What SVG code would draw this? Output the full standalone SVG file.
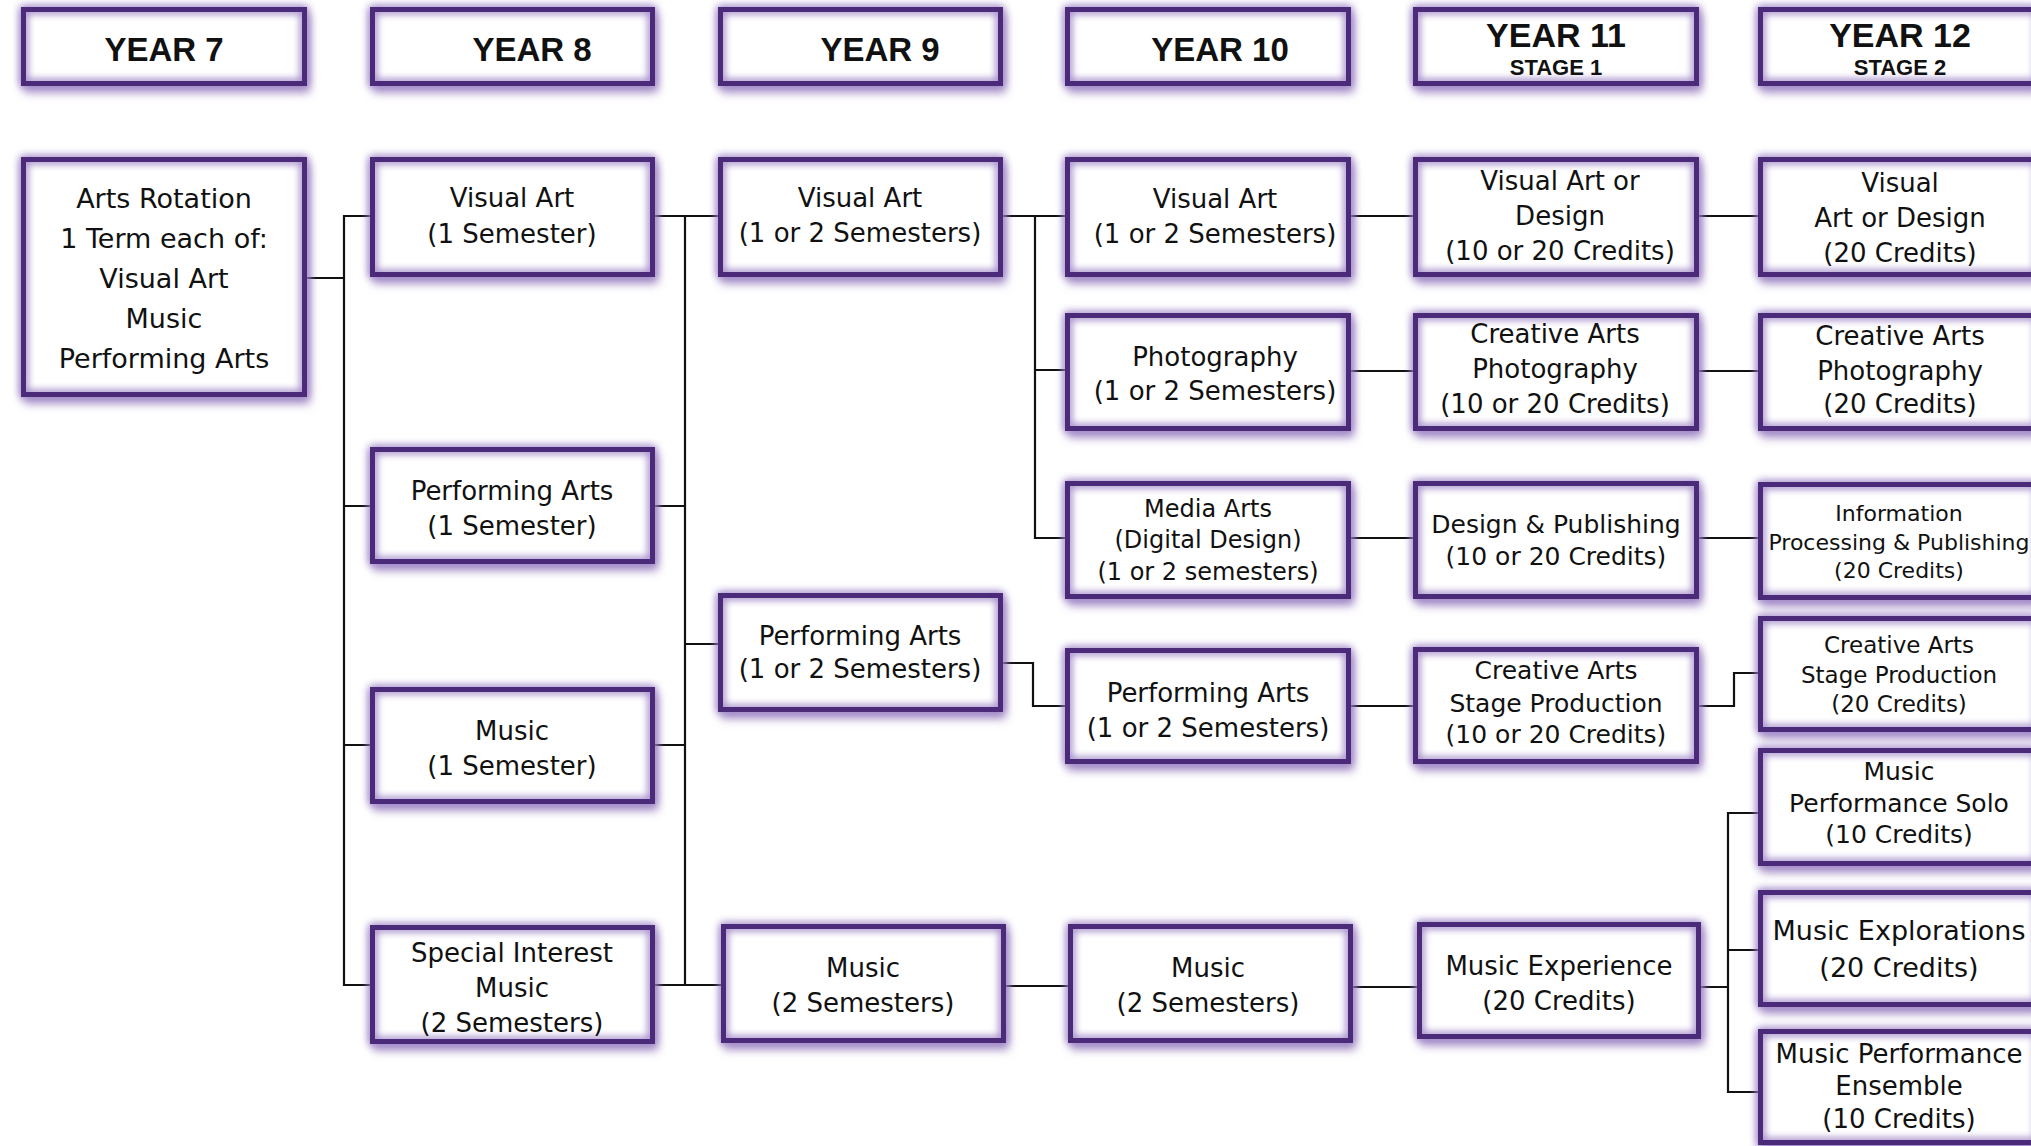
<svg xmlns="http://www.w3.org/2000/svg" width="2031" height="1146" viewBox="0 0 2031 1146">
<defs>
<style>
.bx{fill:#fff;stroke:#4b2a7a;stroke-width:5;filter:url(#fx)}
.t{font-family:"DejaVu Sans","Liberation Sans",sans-serif;font-size:26px;text-anchor:middle;fill:#111}
.h{font-family:"Liberation Sans",Arial,sans-serif;font-weight:bold;font-size:33px;text-anchor:middle;fill:#111}
.hb{font-size:34px}
.st{font-size:22px}
.s22{font-size:22px}
.s23{font-size:23px}
.s24{font-size:24px}
.s25{font-size:25px}
.s27{font-size:27px}
.c{fill:none;stroke:#111;stroke-width:2.2;stroke-linecap:square}
</style>
<filter id="fx" x="-0.1" y="-0.2" width="1.25" height="1.5" color-interpolation-filters="sRGB">
<feGaussianBlur in="SourceAlpha" stdDeviation="5" result="b"/>
<feOffset in="b" dx="3" dy="7" result="o"/>
<feFlood flood-color="#7d5cab" flood-opacity="0.6"/>
<feComposite in2="o" operator="in" result="shadow"/>
<feColorMatrix in="SourceGraphic" type="matrix" values="0 0 0 0 0.62  0 0 0 0 0.52  0 0 0 0 0.78  -3 0 0 3 0" result="dark"/>
<feGaussianBlur in="dark" stdDeviation="4" result="glow"/>
<feComposite in="SourceGraphic" in2="dark" operator="in" result="stroke"/>
<feMerge><feMergeNode in="shadow"/><feMergeNode in="SourceGraphic"/><feMergeNode in="glow"/><feMergeNode in="glow"/><feMergeNode in="stroke"/></feMerge>
</filter>
</defs>
<rect width="2031" height="1146" fill="#fff"/>
<g id="connectors">
<path class="c" d="M307 278 H344 M370 216 H344 V985 H370 M344 506 H370 M344 745 H370"/>
<path class="c" d="M655 216 H718 M685 216 V985 M655 506 H685 M655 745 H685 M655 985 H721 M685 644 H718"/>
<path class="c" d="M1003 216 H1065 M1035 216 V538 H1065 M1035 370 H1065"/>
<path class="c" d="M1003 663 H1033 V706 H1065"/>
<path class="c" d="M1006 986 H1068"/>
<path class="c" d="M1351 216 H1413 M1351 371 H1413 M1351 538 H1413 M1351 706 H1413 M1353 987 H1417"/>
<path class="c" d="M1699 216 H1758 M1699 371 H1758 M1699 538 H1758 M1699 706 H1734 V673 H1758 M1701 987 H1728 M1728 813 V1092 M1728 813 H1758 M1728 950 H1758 M1728 1092 H1758"/>
</g>
<g id="h7"><rect class="bx" x="23.5" y="9.5" width="281" height="74"/><text class="h" x="164" y="61">YEAR 7</text></g>
<g id="h8"><rect class="bx" x="372.5" y="9.5" width="280" height="74"/><text class="h" x="532" y="61">YEAR 8</text></g>
<g id="h9"><rect class="bx" x="720.5" y="9.5" width="280" height="74"/><text class="h" x="880" y="61">YEAR 9</text></g>
<g id="h10"><rect class="bx" x="1067.5" y="9.5" width="281" height="74"/><text class="h" x="1220" y="61">YEAR 10</text></g>
<g id="h11"><rect class="bx" x="1415.5" y="9.5" width="281" height="74"/><text class="h hb" x="1556" y="47">YEAR 11</text><text class="h st" x="1556" y="75">STAGE 1</text></g>
<g id="h12"><rect class="bx" x="1760.5" y="9.5" width="278" height="74"/><text class="h hb" x="1900" y="47">YEAR 12</text><text class="h st" x="1900" y="75">STAGE 2</text></g>

<g id="y7-rotation"><rect class="bx" x="23.5" y="159.5" width="281" height="235"/><text class="t s27"><tspan x="164" y="208">Arts Rotation</tspan><tspan x="164" y="248">1 Term each of:</tspan><tspan x="164" y="288">Visual Art</tspan><tspan x="164" y="328">Music</tspan><tspan x="164" y="368">Performing Arts</tspan></text></g>

<g id="y8-visual"><rect class="bx" x="372.5" y="159.5" width="280" height="115"/><text class="t"><tspan x="512" y="207">Visual Art</tspan><tspan x="512" y="243">(1 Semester)</tspan></text></g>
<g id="y8-performing"><rect class="bx" x="372.5" y="449.5" width="280" height="112"/><text class="t"><tspan x="512" y="500">Performing Arts</tspan><tspan x="512" y="535">(1 Semester)</tspan></text></g>
<g id="y8-music"><rect class="bx" x="372.5" y="689.5" width="280" height="112"/><text class="t"><tspan x="512" y="740">Music</tspan><tspan x="512" y="775">(1 Semester)</tspan></text></g>
<g id="y8-special"><rect class="bx" x="372.5" y="927.5" width="280" height="114"/><text class="t"><tspan x="512" y="962">Special Interest</tspan><tspan x="512" y="997">Music</tspan><tspan x="512" y="1032">(2 Semesters)</tspan></text></g>

<g id="y9-visual"><rect class="bx" x="720.5" y="159.5" width="280" height="115"/><text class="t"><tspan x="860" y="207">Visual Art</tspan><tspan x="860" y="242">(1 or 2 Semesters)</tspan></text></g>
<g id="y9-performing"><rect class="bx" x="720.5" y="595.5" width="280" height="114"/><text class="t"><tspan x="860" y="645">Performing Arts</tspan><tspan x="860" y="678">(1 or 2 Semesters)</tspan></text></g>
<g id="y9-music"><rect class="bx" x="723.5" y="926.5" width="280" height="114"/><text class="t"><tspan x="863" y="977">Music</tspan><tspan x="863" y="1012">(2 Semesters)</tspan></text></g>

<g id="y10-visual"><rect class="bx" x="1067.5" y="159.5" width="281" height="115"/><text class="t"><tspan x="1215" y="208">Visual Art</tspan><tspan x="1215" y="243">(1 or 2 Semesters)</tspan></text></g>
<g id="y10-photo"><rect class="bx" x="1067.5" y="315.5" width="281" height="113"/><text class="t"><tspan x="1215" y="366">Photography</tspan><tspan x="1215" y="400">(1 or 2 Semesters)</tspan></text></g>
<g id="y10-media"><rect class="bx" x="1067.5" y="483.5" width="281" height="113"/><text class="t s24"><tspan x="1208" y="517">Media Arts</tspan><tspan x="1208" y="548">(Digital Design)</tspan><tspan x="1208" y="580">(1 or 2 semesters)</tspan></text></g>
<g id="y10-performing"><rect class="bx" x="1067.5" y="650.5" width="281" height="111"/><text class="t"><tspan x="1208" y="702">Performing Arts</tspan><tspan x="1208" y="737">(1 or 2 Semesters)</tspan></text></g>
<g id="y10-music"><rect class="bx" x="1070.5" y="926.5" width="280" height="114"/><text class="t"><tspan x="1208" y="977">Music</tspan><tspan x="1208" y="1012">(2 Semesters)</tspan></text></g>

<g id="y11-visual"><rect class="bx" x="1415.5" y="159.5" width="281" height="115"/><text class="t"><tspan x="1560" y="190">Visual Art or</tspan><tspan x="1560" y="225">Design</tspan><tspan x="1560" y="260">(10 or 20 Credits)</tspan></text></g>
<g id="y11-photo"><rect class="bx" x="1415.5" y="315.5" width="281" height="113"/><text class="t"><tspan x="1555" y="343">Creative Arts</tspan><tspan x="1555" y="378">Photography</tspan><tspan x="1555" y="413">(10 or 20 Credits)</tspan></text></g>
<g id="y11-design"><rect class="bx" x="1415.5" y="483.5" width="281" height="113"/><text class="t s25"><tspan x="1556" y="533">Design &amp; Publishing</tspan><tspan x="1556" y="565">(10 or 20 Credits)</tspan></text></g>
<g id="y11-stage"><rect class="bx" x="1415.5" y="649.5" width="281" height="112"/><text class="t s25"><tspan x="1556" y="679">Creative Arts</tspan><tspan x="1556" y="712">Stage Production</tspan><tspan x="1556" y="743">(10 or 20 Credits)</tspan></text></g>
<g id="y11-music"><rect class="bx" x="1419.5" y="924.5" width="279" height="112"/><text class="t"><tspan x="1559" y="975">Music Experience</tspan><tspan x="1559" y="1010">(20 Credits)</tspan></text></g>

<g id="y12-visual"><rect class="bx" x="1760.5" y="159.5" width="278" height="115"/><text class="t"><tspan x="1900" y="192">Visual</tspan><tspan x="1900" y="227">Art or Design</tspan><tspan x="1900" y="262">(20 Credits)</tspan></text></g>
<g id="y12-photo"><rect class="bx" x="1760.5" y="315.5" width="278" height="113"/><text class="t"><tspan x="1900" y="345">Creative Arts</tspan><tspan x="1900" y="380">Photography</tspan><tspan x="1900" y="413">(20 Credits)</tspan></text></g>
<g id="y12-info"><rect class="bx" x="1760.5" y="484.5" width="278" height="113"/><text class="t s22"><tspan x="1899" y="521">Information</tspan><tspan x="1899" y="550">Processing &amp; Publishing</tspan><tspan x="1899" y="578">(20 Credits)</tspan></text></g>
<g id="y12-stage"><rect class="bx" x="1760.5" y="618.5" width="278" height="111"/><text class="t s23"><tspan x="1899" y="653">Creative Arts</tspan><tspan x="1899" y="683">Stage Production</tspan><tspan x="1899" y="712">(20 Credits)</tspan></text></g>
<g id="y12-solo"><rect class="bx" x="1760.5" y="750.5" width="278" height="113"/><text class="t s25"><tspan x="1899" y="780">Music</tspan><tspan x="1899" y="812">Performance Solo</tspan><tspan x="1899" y="843">(10 Credits)</tspan></text></g>
<g id="y12-explorations"><rect class="bx" x="1760.5" y="892.5" width="278" height="112"/><text class="t s27"><tspan x="1899" y="940">Music Explorations</tspan><tspan x="1899" y="977">(20 Credits)</tspan></text></g>
<g id="y12-ensemble"><rect class="bx" x="1760.5" y="1031.5" width="278" height="111"/><text class="t"><tspan x="1899" y="1063">Music Performance</tspan><tspan x="1899" y="1095">Ensemble</tspan><tspan x="1899" y="1128">(10 Credits)</tspan></text></g>
</svg>
